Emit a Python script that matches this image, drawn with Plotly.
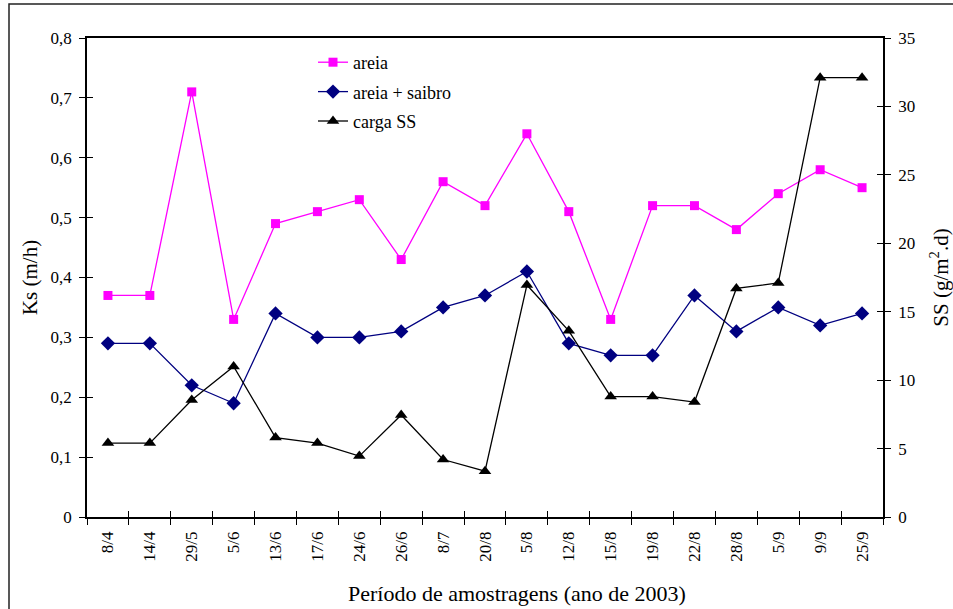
import plotly.graph_objects as go

# Sampling dates (2003)
datas = ["8/4", "14/4", "29/5", "5/6", "13/6", "17/6", "24/6", "26/6", "8/7", "20/8",
         "5/8", "12/8", "15/8", "19/8", "22/8", "28/8", "5/9", "9/9", "25/9"]

# Hydraulic conductivity Ks (m/h)
ks_areia = [0.37, 0.37, 0.71, 0.33, 0.49, 0.51, 0.53, 0.43, 0.56, 0.52,
            0.64, 0.51, 0.33, 0.52, 0.52, 0.48, 0.54, 0.58, 0.55]
ks_areia_saibro = [0.29, 0.29, 0.22, 0.19, 0.34, 0.30, 0.30, 0.31, 0.35, 0.37,
                   0.41, 0.29, 0.27, 0.27, 0.37, 0.31, 0.35, 0.32, 0.34]

# Suspended solids load SS (g/m2.d)
carga_ss = [5.4, 5.4, 8.55, 11.0, 5.8, 5.4, 4.45, 7.45, 4.2, 3.35,
            16.95, 13.6, 8.8, 8.8, 8.4, 16.7, 17.1, 32.1, 32.1]

FONT = "Liberation Serif"
W, H = 953, 609
L, R, T, B = 87, 883, 38, 517
pw, ph = R - L, B - T

fig = go.Figure()
fig.add_trace(go.Scatter(
    x=datas, y=ks_areia, name="areia", mode="lines+markers", legendgroup="a",
    line=dict(color="#FF00FF", width=1.3),
    marker=dict(symbol="square", size=9, color="#FF00FF"),
    xaxis="x", yaxis="y"))
fig.add_trace(go.Scatter(
    x=datas, y=ks_areia_saibro, name="areia + saibro", mode="lines+markers", legendgroup="b",
    line=dict(color="#000080", width=1.3),
    marker=dict(symbol="diamond", size=11, color="#000080"),
    xaxis="x", yaxis="y"))
fig.add_trace(go.Scatter(
    x=datas, y=carga_ss, name="carga SS", mode="lines+markers", legendgroup="c",
    line=dict(color="#000000", width=1.3),
    marker=dict(symbol="triangle-up", size=11, color="#000000"),
    xaxis="x", yaxis="y2"))

tickfont = dict(family=FONT, size=17, color="black")
titlefont = dict(family=FONT, size=21, color="black")

fig.update_layout(
    width=W, height=H,
    margin=dict(l=L, r=W - R, t=T, b=H - B, autoexpand=False),
    paper_bgcolor="white", plot_bgcolor="white",
    separators=",.",
    font=dict(family=FONT, size=17, color="black"),
    showlegend=True,
    legend=dict(x=(313 - L) / pw, y=(B - 44) / ph, xanchor="left", yanchor="top",
                bgcolor="rgba(0,0,0,0)", borderwidth=0,
                font=dict(family=FONT, size=18, color="black"),
                tracegroupgap=3, itemwidth=30),
    xaxis=dict(
        type="category", categoryorder="array", categoryarray=datas,
        range=[-0.5, len(datas) - 0.5], automargin=False,
        tickson="boundaries", ticks="outside", ticklen=6, tickwidth=1, tickcolor="black",
        tickangle=-90, tickfont=tickfont, ticklabelstandoff=6,
        showline=True, linecolor="black", linewidth=1.5, mirror=True,
        showgrid=False, zeroline=False,
        anchor="y"),
    yaxis=dict(
        range=[0, 0.8], dtick=0.1, tick0=0, automargin=False,
        ticks="outside", ticklen=6, tickwidth=1, tickcolor="black", tickfont=tickfont,
        ticklabelstandoff=4,
        showline=True, linecolor="black", linewidth=1.5,
        showgrid=False, zeroline=False,
        title=dict(text="Ks (m/h)", font=titlefont, standoff=7)),
    yaxis2=dict(
        range=[0, 35], dtick=5, tick0=0, overlaying="y", side="right", anchor="x",
        automargin=False,
        ticks="outside", ticklen=6, tickwidth=1, tickcolor="black", tickfont=tickfont,
        ticklabelstandoff=4,
        showline=True, linecolor="black", linewidth=1.5,
        showgrid=False, zeroline=False,
        title=dict(text="SS (g/m<sup>2</sup>.d)", font=titlefont, standoff=25)),
    # inner halves of the crossing tick marks
    xaxis2=dict(range=[-0.5, len(datas) - 0.5], tick0=-0.5, dtick=1, overlaying="x",
                anchor="y", side="bottom", ticks="inside", ticklen=6, tickcolor="black",
                automargin=False,
                showticklabels=False, showgrid=False, zeroline=False, showline=False),
    yaxis3=dict(range=[0, 0.8], dtick=0.1, tick0=0, overlaying="y", side="left",
                anchor="x", ticks="inside", ticklen=6, tickcolor="black", automargin=False,
                showticklabels=False, showgrid=False, zeroline=False, showline=False),
    yaxis4=dict(range=[0, 35], dtick=5, tick0=0, overlaying="y", side="right",
                anchor="x", ticks="inside", ticklen=6, tickcolor="black", automargin=False,
                showticklabels=False, showgrid=False, zeroline=False, showline=False),
)

# x-axis title, set slightly right of the plot centre
fig.add_annotation(text="Período de amostragens (ano de 2003)", showarrow=False,
                   xref="paper", yref="paper", x=(517 - L) / pw, y=(B - 593) / ph,
                   xanchor="center", yanchor="middle",
                   font=dict(family=FONT, size=22, color="black"))

# placeholder traces so the tick-only axes are drawn
fig.add_trace(go.Scatter(x=[None], y=[None], xaxis="x2", yaxis="y3",
                         showlegend=False, hoverinfo="skip"))
fig.add_trace(go.Scatter(x=[None], y=[None], xaxis="x2", yaxis="y4",
                         showlegend=False, hoverinfo="skip"))

# outer frame of the chart
fig.add_shape(type="rect", xref="paper", yref="paper",
              x0=(9 - L) / pw, x1=(W + 20 - L) / pw,
              y0=(B - H - 20) / ph, y1=(B - 4) / ph,
              line=dict(color="#222222", width=1.5), layer="below")

fig.write_html("out.html")
